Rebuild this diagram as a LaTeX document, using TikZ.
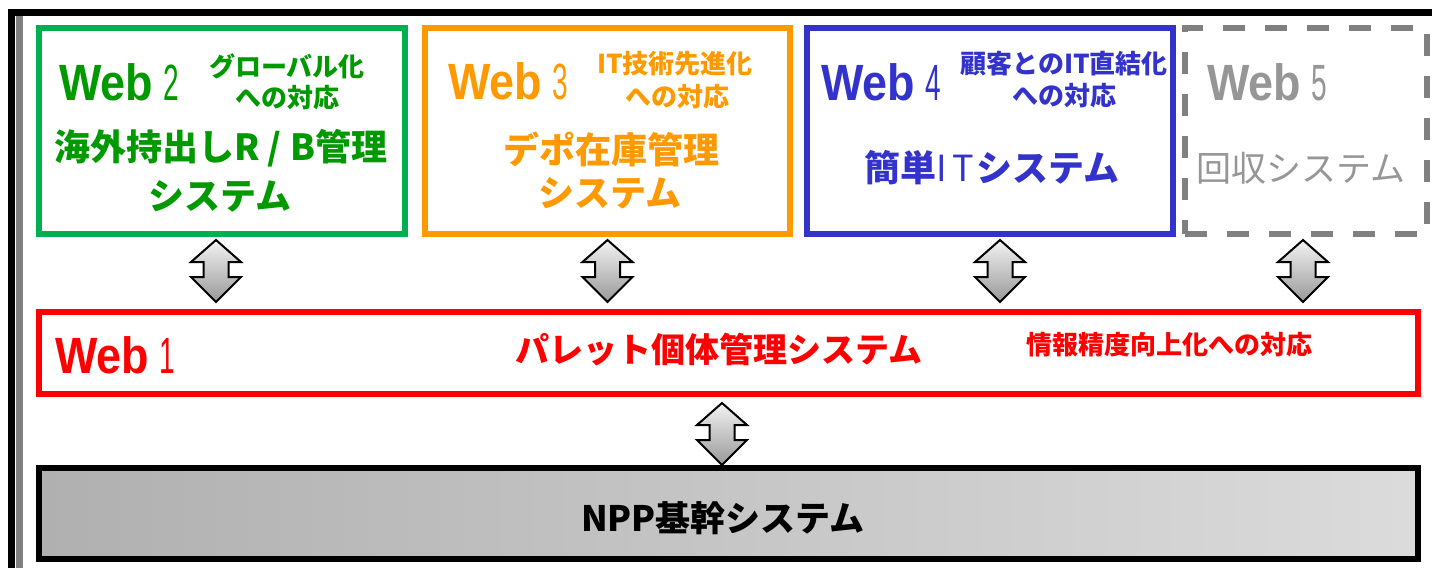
\documentclass[tikz,border=0pt]{standalone}
\usepackage{fontspec}
\usepackage{graphicx}
\setmainfont{Liberation Sans}
\newfontfamily\jp{Noto Sans CJK JP}
\usetikzlibrary{calc}
\definecolor{gbox}{RGB}{0,176,80}
\definecolor{gtxt}{RGB}{0,153,0}
\definecolor{otxt}{RGB}{255,153,0}
\definecolor{btxt}{RGB}{51,51,204}
\definecolor{gyb}{RGB}{128,128,128}
\definecolor{gyt}{RGB}{150,150,150}
\definecolor{rtxt}{RGB}{255,0,0}
\newcommand{\weblabel}[1]{\scalebox{0.88}[1]{\fontsize{51}{51}\selectfont\bfseries Web}\hspace{10pt}\scalebox{0.55}[1]{\fontsize{51}{51}\selectfont #1}}
\tikzset{
  panel/.style={draw, line width=6pt, minimum width=366pt, minimum height=206pt, inner sep=0pt},
  webt/.style={anchor=base west, inner sep=0pt},
  subt/.style={inner sep=0pt, font=\jp\bfseries\fontsize{26}{30}\selectfont},
  maint/.style={inner sep=0pt, font=\jp\bfseries\fontsize{36}{40}\selectfont},
  dblarr/.pic={
    \draw[line width=2pt, line join=miter, top color=white!95!black, bottom color=black!40]
      (0,0) -- (25,22) -- (12.5,22) -- (12.5,37) -- (25,37) -- (0,62)
      -- (-25,37) -- (-12.5,37) -- (-12.5,22) -- (-25,22) -- cycle;
  }
}
\begin{document}
\begin{tikzpicture}[x=1pt,y=-1pt]
\useasboundingbox (0,0) rectangle (1432,568);
% outer frame
\fill[black] (8,9) rectangle (1432,16);
\fill[black] (8,9) rectangle (15,568);
\fill[gyb] (16,16) rectangle (23,568);

% panels
\node[panel, draw=gbox] (w2) at (222,131) {};
\node[panel, draw=otxt, minimum width=365pt] (w3) at (607.5,131) {};
\node[panel, draw=btxt] (w4) at (990,131) {};
\node[panel, draw=gyb, minimum width=242pt, dash pattern=on 22pt off 20pt] (w5) at (1306,131) {};
\node[panel, draw=rtxt, minimum width=1379pt, minimum height=82pt] (w1) at (728.5,353) {};
\node[panel, draw=black, minimum width=1379pt, minimum height=91pt, left color=black!31, right color=black!14] (npp) at (728.5,513.5) {};

% Web 2
\node[webt, text=gtxt] (w2a) at (59,100) {\weblabel{2}};
\node[subt, text=gtxt] (w2b) at (287,66.5) {グローバル化};
\node[subt, text=gtxt] (w2c) at (287,97.5) {への対応};
\node[maint, text=gtxt] (w2d) at (221,148) {海外持出しR\hspace{8pt}/\hspace{9pt}B管理};
\node[maint, text=gtxt] (w2e) at (220,196) {システム};

% Web 3
\node[webt, text=otxt] (w3a) at (448,99) {\weblabel{3}};
\node[subt, text=otxt] (w3b) at (675,64) {IT技術先進化};
\node[subt, text=otxt] (w3c) at (677,97) {への対応};
\node[maint, text=otxt] (w3d) at (611,149) {デポ在庫管理};
\node[maint, text=otxt] (w3e) at (610,193) {システム};

% Web 4
\node[webt, text=btxt] (w4a) at (821,100) {\weblabel{4}};
\node[subt, text=btxt] (w4b) at (1064,64) {顧客とのIT直結化};
\node[subt, text=btxt] (w4c) at (1064,96) {への対応};
\node[maint, text=btxt] (w4d) at (992,168) {簡単{\mdseries I\hspace{5pt}T\hspace{3pt}}システム};

% Web 5
\node[webt, text=gyt] (w5a) at (1207,100) {\weblabel{5}};
\node[inner sep=0pt, text=gyt, font=\jp\fontsize{35}{40}\selectfont] (w5b) at (1301,168.5) {回収システム};

% Web 1
\node[webt, text=rtxt] (w1a) at (55,373) {\weblabel{1}};
\node[inner sep=0pt, text=rtxt, font=\jp\bfseries\fontsize{34}{40}\selectfont] (w1b) at (719,350) {パレット個体管理システム};
\node[subt, text=rtxt] (w1c) at (1169,344.5) {情報精度向上化への対応};

% NPP
\node[inner sep=0pt, text=black, font=\jp\bfseries\fontsize{35}{40}\selectfont] (nppt) at (723,518) {NPP基幹システム};

% connectors
\pic (a2) at ($(w2.south)+(-6,3)$) {dblarr};
\pic (a3) at ($(w3.south)+(0,3)$) {dblarr};
\pic (a4) at ($(w4.south)+(10,3)$) {dblarr};
\pic (a5) at ($(w5.south)+(-3,3)$) {dblarr};
\pic (a1) at ($(w1.south)+(-6.5,6)$) {dblarr};
\end{tikzpicture}
\end{document}
